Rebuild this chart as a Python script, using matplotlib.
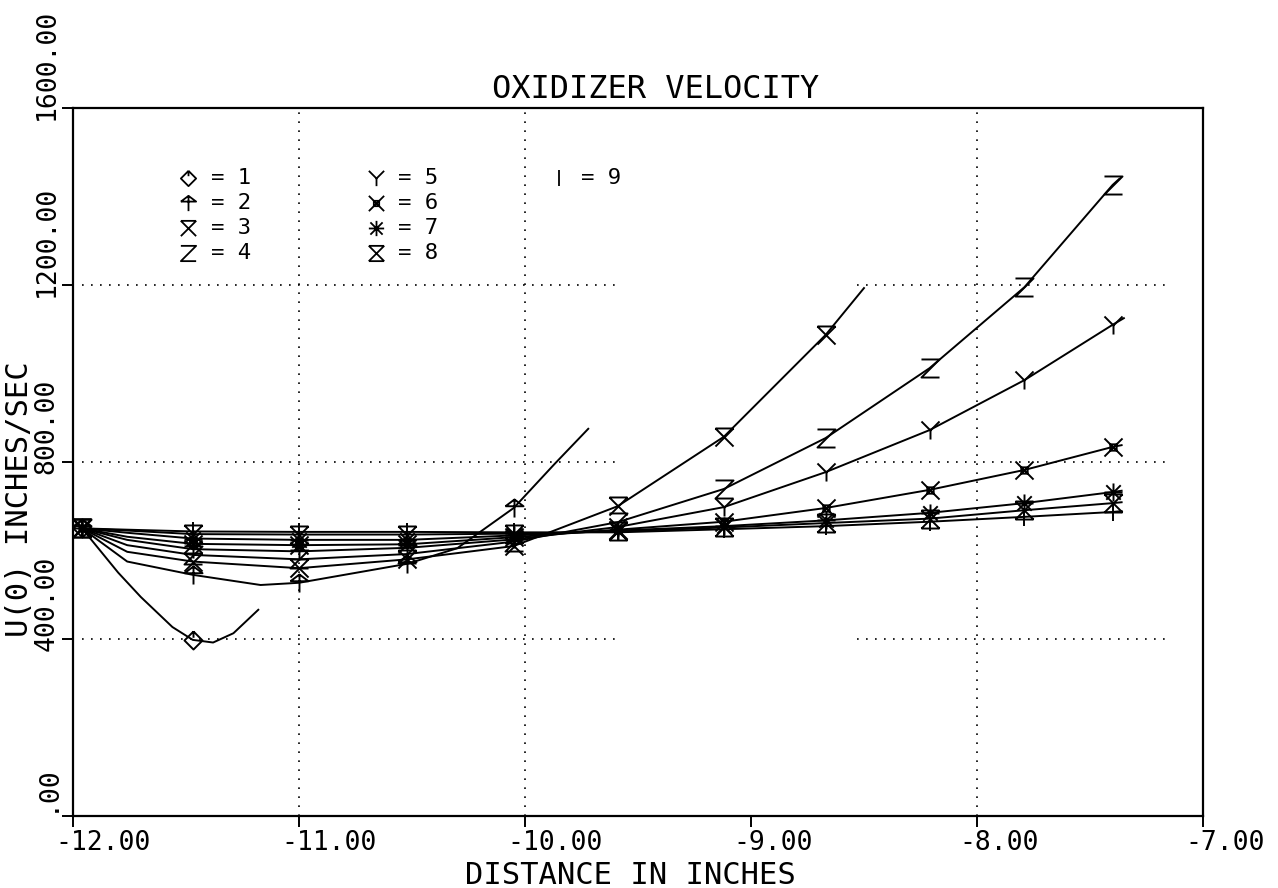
import matplotlib
matplotlib.use("Agg")
import matplotlib.pyplot as plt
import matplotlib.transforms as mtransforms
from matplotlib.path import Path

# x positions of the plotted points (inches)
x_pts = [-11.96, -11.47, -11.00, -10.52, -10.05, -9.59, -9.12, -8.67, -8.21, -7.79, -7.40]

# U(0) at the plotted points, one list per curve I = 1..9
u1 = [650, 398]
u2 = [650, 545, 527, 570, 696]
u3 = [650, 575, 560, 580, 610, 700, 857, 1087]
u4 = [650, 590, 580, 592, 620, 664, 739, 854, 1012, 1195, 1426]
u5 = [650, 603, 598, 606, 625, 653, 698, 777, 872, 985, 1110]
u6 = [650, 615, 612, 614, 630, 647, 665, 696, 737, 782, 834]
u7 = [650, 627, 624, 624, 634, 645, 655, 668, 685, 707, 732]
u8 = [650, 637, 636, 636, 638, 643, 652, 662, 672, 691, 707]
u9 = [650, 643, 642, 642, 641, 641, 648, 655, 665, 676, 687]

# extra points (bends and the curve end past the last symbol)
bx1 = [-11.88, -11.80, -11.70, -11.56, -11.38, -11.29, -11.18]
by1 = [600, 550, 495, 427, 392, 413, 466]
bx2 = [-11.76, -11.17, -10.30, -9.87, -9.72]
by2 = [575, 522, 605, 795, 875]
bx3 = [-11.76, -8.50]
by3 = [597, 1193]
bx4 = [-11.76, -7.37]
by4 = [612, 1440]
bx5 = [-11.76, -7.35]
by5 = [624, 1125]
bx6 = [-11.76, -7.36]
by6 = [631, 838]
bx7 = [-11.76, -7.36]
by7 = [640, 735]
bx8 = [-11.76, -7.36]
by8 = [645, 709]
bx9 = [-11.76, -7.36]
by9 = [647, 689]

labels = ['1', '2', '3', '4', '5', '6', '7', '8', '9']

x_ticks = [-12, -11, -10, -9, -8, -7]
x_tick_labels = ['-12.00', '-11.00', '-10.00', '-9.00', '-8.00', '-7.00']
y_ticks = [0, 400, 800, 1200, 1600]
y_tick_labels = ['.00', '400.00', '800.00', '1200.00', '1600.00']


def lines_path(segs):
    verts = []
    codes = []
    for seg in segs:
        for i, p in enumerate(seg):
            verts.append(p)
            codes.append(Path.MOVETO if i == 0 else Path.LINETO)
    return Path(verts, codes)


# plotter style symbols
sym_diamond = lines_path([[(0, 1), (1, 0), (0, -1), (-1, 0), (0, 1)], [(0, 1), (0, 0.3)]])
sym_arrow = lines_path([[(0, -1), (0, 1)], [(-1, 0.25), (0, 1), (1, 0.25), (-1, 0.25)]])
sym_xbar = lines_path([[(-1, 1), (1, 1)], [(-1, 1), (1, -1)], [(1, 1), (-1, -1)]])
sym_z = lines_path([[(-1, 1), (1, 1), (-1, -1), (1, -1)]])
sym_y = lines_path([[(-1, 1), (0, 0), (1, 1)], [(0, 0), (0, -1)]])
sym_xsq = lines_path([[(-1, 1), (1, -1)], [(-1, -1), (1, 1)],
                      [(-0.35, -0.35), (0.35, -0.35), (0.35, 0.35), (-0.35, 0.35), (-0.35, -0.35)]])
sym_star = lines_path([[(0, -1), (0, 1)], [(-1, 0), (1, 0)], [(-0.8, -0.8), (0.8, 0.8)], [(-0.8, 0.8), (0.8, -0.8)]])
sym_hour = lines_path([[(-1, 1), (1, 1)], [(-1, -1), (1, -1)], [(-1, 1), (1, -1)], [(1, 1), (-1, -1)]])
sym_bar = lines_path([[(0, -1), (0, 1)]])
symbols = [sym_diamond, sym_arrow, sym_xbar, sym_z, sym_y, sym_xsq, sym_star, sym_hour, sym_bar]

series = [u1, u2, u3, u4, u5, u6, u7, u8, u9]
bends = [(bx1, by1), (bx2, by2), (bx3, by3), (bx4, by4), (bx5, by5),
         (bx6, by6), (bx7, by7), (bx8, by8), (bx9, by9)]

plt.rcParams['font.family'] = 'DejaVu Sans Mono'

fig = plt.figure(figsize=(12.78, 8.88), dpi=100)
ax = fig.add_axes([0.0571, 0.0811, 0.8842, 0.7973])

for u, (bx, by), sym in zip(series, bends, symbols):
    xs = x_pts[:len(u)]
    pts = sorted(list(zip(xs, u)) + list(zip(bx, by)))
    ax.plot([p[0] for p in pts], [p[1] for p in pts], color='black', lw=1.4, zorder=3)
    ax.plot(xs, u, linestyle='none', marker=sym, markersize=13, mfc='none',
            mec='black', mew=1.4, zorder=4)

# dotted grid (horizontal ones are broken in the middle, like the original)
grid_style = dict(color='black', lw=1.2, linestyle=(0, (1, 4.4)), zorder=1)
for xv in [-11, -10, -8]:
    ax.vlines(xv, 0, 1600, **grid_style)
for yv in [400, 800, 1200]:
    ax.hlines(yv, -11.96, -9.59, **grid_style)
    ax.hlines(yv, -8.53, -7.16, **grid_style)

ax.set_xlim(-12, -7)
ax.set_ylim(0, 1600)
for sp in ax.spines.values():
    sp.set_linewidth(1.6)

ax.set_xticks(x_ticks)
ax.set_xticklabels(x_tick_labels, fontsize=19)
ax.set_yticks(y_ticks)
ax.set_yticklabels(y_tick_labels, fontsize=19, rotation=90, va='bottom')
ax.tick_params(axis='both', direction='out', length=8, width=1.4)
ax.tick_params(axis='x', pad=2)
ax.tick_params(axis='y', pad=1.5)

dx = mtransforms.ScaledTranslation(-0.18, 0, fig.dpi_scale_trans)
for lab in ax.get_xticklabels():
    lab.set_horizontalalignment('left')
    lab.set_transform(lab.get_transform() + dx)
for i, lab in enumerate(ax.get_yticklabels()):
    shift = 0.04 if i == 0 else -0.12
    dy = mtransforms.ScaledTranslation(0, shift, fig.dpi_scale_trans)
    lab.set_transform(lab.get_transform() + dy)

# symbol key in the upper left
key_x = [-11.49, -11.49, -11.49, -11.49, -10.66, -10.66, -10.66, -10.66, -9.85]
key_y = [1442, 1385, 1329, 1272, 1442, 1385, 1329, 1272, 1442]
for kx, ky, sym, lab in zip(key_x, key_y, symbols, labels):
    ax.plot([kx], [ky], marker=sym, markersize=11, mfc='none', mec='black', mew=1.3)
    ax.text(kx + 0.1, ky, '= ' + lab, fontsize=16, va='center', ha='left')

fig.text(656 / 1278, 1 - 89 / 888, 'OXIDIZER VELOCITY', fontsize=23, ha='center', va='center')
fig.text(630 / 1278, 1 - 884 / 888, 'DISTANCE IN INCHES', fontsize=22, ha='center', va='baseline')
fig.text(28 / 1278, 1 - 499 / 888, 'U(0) INCHES/SEC', fontsize=22, ha='center', va='baseline',
         rotation=90, rotation_mode='anchor')

fig.savefig('out.png', dpi=100, facecolor='white')
